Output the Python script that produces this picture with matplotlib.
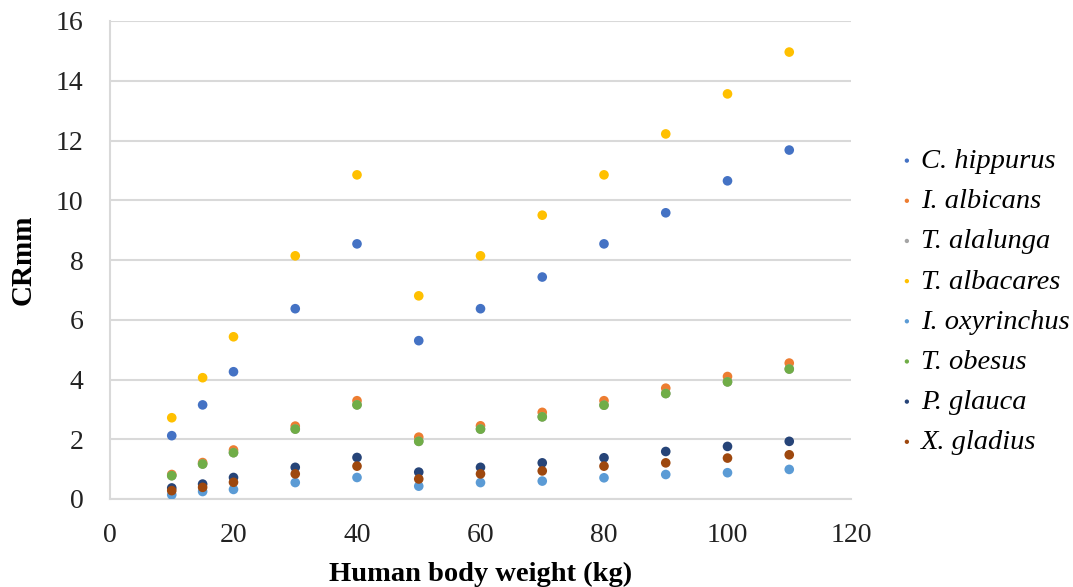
import matplotlib
matplotlib.use("Agg")
import matplotlib.pyplot as plt

weights = [10, 15, 20, 30, 40, 50, 60, 70, 80, 90, 100, 110]

c_hippurus = [2.12, 3.15, 4.26, 6.37, 8.54, 5.30, 6.37, 7.43, 8.54, 9.58, 10.65, 11.68]
i_albicans = [0.82, 1.22, 1.64, 2.44, 3.29, 2.07, 2.45, 2.90, 3.29, 3.71, 4.10, 4.55]
t_alalunga = [0.78, 1.17, 1.55, 2.34, 3.15, 1.93, 2.34, 2.75, 3.14, 3.53, 3.92, 4.35]
t_albacares = [2.72, 4.06, 5.43, 8.14, 10.85, 6.80, 8.14, 9.50, 10.85, 12.22, 13.56, 14.96]
i_oxyrinchus = [0.14, 0.25, 0.32, 0.55, 0.72, 0.43, 0.55, 0.60, 0.71, 0.82, 0.88, 0.99]
t_obesus = [0.78, 1.17, 1.55, 2.34, 3.15, 1.93, 2.34, 2.75, 3.14, 3.53, 3.92, 4.35]
p_glauca = [0.37, 0.50, 0.72, 1.06, 1.39, 0.90, 1.06, 1.21, 1.38, 1.59, 1.76, 1.93]
x_gladius = [0.28, 0.39, 0.56, 0.84, 1.10, 0.67, 0.84, 0.94, 1.10, 1.21, 1.37, 1.48]

names = ["C. hippurus", "I. albicans", "T. alalunga", "T. albacares",
         "I. oxyrinchus", "T. obesus", "P. glauca", "X. gladius"]
series = [c_hippurus, i_albicans, t_alalunga, t_albacares,
          i_oxyrinchus, t_obesus, p_glauca, x_gladius]
colors = ["#4472C4", "#ED7D31", "#A5A5A5", "#FFC000",
          "#5B9BD5", "#70AD47", "#264478", "#9E480E"]

plt.rcParams['font.family'] = ['Liberation Serif', 'DejaVu Serif']

fig = plt.figure(figsize=(10.73, 5.87), dpi=100)
ax = fig.add_axes([110/1073, 1-499/587, (851-110)/1073, (499-21)/587])

for name, vals, col in zip(names, series, colors):
    ax.scatter(weights, vals, s=48, color=col, label=name, edgecolors='none', zorder=3)

ax.set_xlim(0, 120)
ax.set_ylim(0, 16)
ax.set_xticks(range(0, 121, 20))
ax.set_yticks(range(0, 17, 2))
ax.grid(axis='y', color='#D9D9D9', linewidth=1.5, zorder=0)
ax.set_axisbelow(True)
for s in ['top', 'right']:
    ax.spines[s].set_visible(False)
for s in ['left', 'bottom']:
    ax.spines[s].set_color('#D9D9D9')
    ax.spines[s].set_linewidth(1.5)
ax.tick_params(axis='both', length=0, labelsize=20, colors='#222222')
ax.tick_params(axis='y', pad=19)
ax.tick_params(axis='x', pad=17)

ax.set_xlabel("Human body weight (kg)", fontsize=20.5, fontweight='bold', labelpad=10)
ax.set_ylabel("CRmm", fontsize=21, fontweight='bold', labelpad=14)

leg = fig.legend(loc='center left', bbox_to_anchor=(0.812, 0.486), frameon=False,
                 prop={'style': 'italic', 'size': 20.5}, markerscale=0.45,
                 handlelength=0.7, handletextpad=0.15, labelspacing=0.5,
                 scatterpoints=1)

fig.savefig("out.png", dpi=100)
